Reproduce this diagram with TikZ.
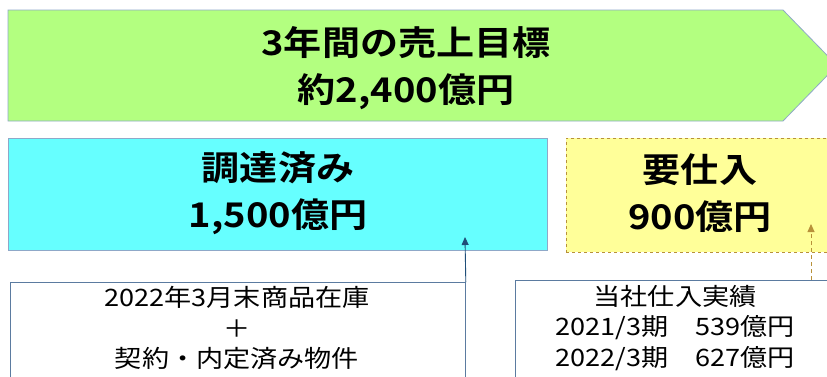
\documentclass[tikz,border=0pt]{standalone}
\usepackage{fontspec}
\setmainfont{Noto Sans CJK JP}
\newfontfamily\boldjp[FakeStretch=1.12]{Noto Sans CJK JP Bold}
\newfontfamily\regjp[FakeStretch=1.13]{Noto Sans CJK JP}
\usetikzlibrary{arrows.meta}
\definecolor{gfill}{HTML}{B3FF80}
\definecolor{cfill}{HTML}{66FFFF}
\definecolor{yfill}{HTML}{FFFF99}
\definecolor{lborder}{HTML}{8FA8C8}
\definecolor{bborder}{HTML}{5B7BA0}
\definecolor{navy}{HTML}{1F4E79}
\definecolor{gold}{HTML}{B8913A}
\tikzset{
  bigtext/.style={font=\boldjp\fontsize{34}{47}\selectfont, align=center, inner sep=0pt},
  smalltext/.style={font=\regjp\fontsize{24}{30.5}\selectfont, align=center, inner sep=0pt},
  panel/.style={draw=lborder, line width=0.8pt, inner sep=0pt, anchor=north west},
  whitebox/.style={draw=bborder, line width=0.8pt, fill=white, inner sep=0pt, anchor=north west},
  conn/.style={line width=0.9pt, -{Triangle[length=8pt,width=7pt]}},
}
\begin{document}
\begin{tikzpicture}[x=1pt,y=-1pt]
\useasboundingbox (0,0) rectangle (827,376);
\clip (0,0) rectangle (827,376);
% top arrow
\draw[draw=lborder, line width=0.8pt, fill=gfill]
  (8,10) -- (783,10) -- (837,65.5) -- (783,121) -- (8,121) -- cycle;
\node[bigtext] (goal) at (406,68.5) {3年間の売上目標\\約2,400億円};
% middle boxes
\node[panel, fill=cfill, minimum width=539pt, minimum height=112pt] (done) at (8,138) {};
\node[bigtext] (donetext) at (278,193) {調達済み\\1,500億円};
\node[draw=gold, dashed, line width=0.8pt, fill=yfill, inner sep=0pt, anchor=north west,
      minimum width=280pt, minimum height=114pt] (need) at (566,138) {};
\node[bigtext] (needtext) at (700,193) {要仕入\\900億円};
% bottom boxes
\node[whitebox, minimum width=455pt, minimum height=120pt] (stock) at (10,282) {};
\node[smalltext] (stocktext) at (237,328) {2022年3月末商品在庫\\＋\\契約・内定済み物件};
\node[whitebox, minimum width=330pt, minimum height=120pt] (past) at (515,280) {};
\node[smalltext] (pasttext) at (675,328) {当社仕入実績\\2021/3期　539億円\\2022/3期　627億円};
% connectors
\coordinate (a1) at (465,237);
\coordinate (a2s) at (811,280);
\coordinate (a2e) at (811,224);
\draw[conn, navy] (stock.north east) -- (a1);
\draw[conn, gold, dashed, dash pattern=on 4pt off 3pt] (a2s) -- (a2e);
\end{tikzpicture}
\end{document}
